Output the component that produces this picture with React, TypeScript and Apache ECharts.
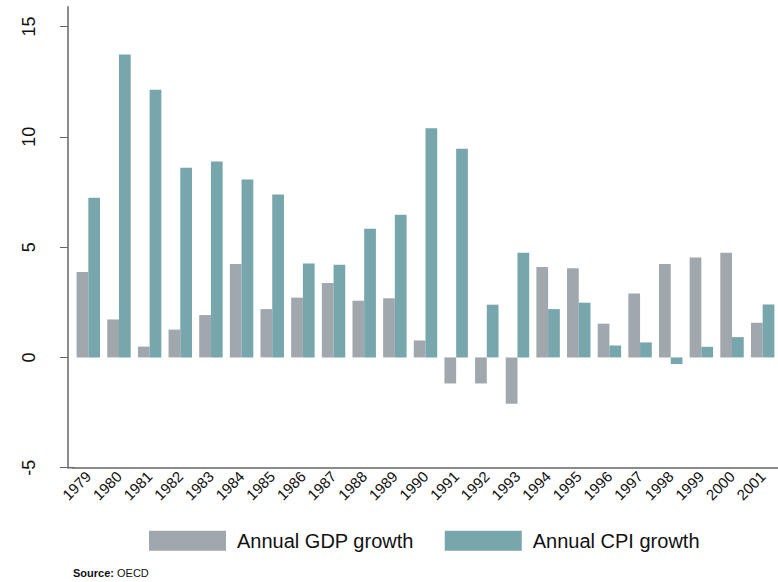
import React, { useEffect, useRef } from "react";
import * as echarts from "echarts";

const years = [
  "1979", "1980", "1981", "1982", "1983", "1984", "1985", "1986", "1987", "1988", "1989", "1990",
  "1991", "1992", "1993", "1994", "1995", "1996", "1997", "1998", "1999", "2000", "2001",
];
const gdpGrowth = [
  3.87, 1.72, 0.49, 1.26, 1.92, 4.24, 2.19, 2.71, 3.37, 2.57, 2.68, 0.77,
  -1.18, -1.18, -2.1, 4.1, 4.04, 1.53, 2.9, 4.23, 4.53, 4.74, 1.57,
];
const cpiGrowth = [
  7.24, 13.73, 12.13, 8.6, 8.88, 8.07, 7.39, 4.26, 4.2, 5.83, 6.47, 10.39,
  9.46, 2.39, 4.74, 2.19, 2.48, 0.54, 0.68, -0.3, 0.48, 0.92, 2.4,
];
const yTicks = [-5, 0, 5, 10, 15];
const seriesNames = ["Annual GDP growth", "Annual CPI growth"];

const FONT = "'Liberation Sans', Arial, sans-serif";
const GRAY = "#a0a7ad";
const TEAL = "#77a6ad";
const AXIS = "#666666";

export default function App() {
  const ref = useRef<HTMLDivElement>(null);
  useEffect(() => {
    if (!ref.current) return;
    const chart = echarts.init(ref.current, undefined, { renderer: "svg" });
    chart.setOption({
      animation: false,
      backgroundColor: "#ffffff",
      textStyle: { fontFamily: FONT },
      grid: { left: 73, right: -4, top: 6.7, bottom: 114.3, containLabel: false },
      legend: {
        left: 149,
        top: 530.7,
        padding: 0,
        itemWidth: 77,
        itemHeight: 20,
        itemGap: 31,
        icon: "rect",
        selectedMode: false,
        data: seriesNames,
        textStyle: { fontSize: 20, color: "#111", fontFamily: FONT, padding: [0, 0, 0, 6] },
      },
      xAxis: {
        type: "category",
        data: years,
        axisLine: { show: true, onZero: false, lineStyle: { color: AXIS, width: 1.5 } },
        axisTick: { show: false },
        axisLabel: {
          rotate: 45,
          interval: 0,
          margin: 6,
          fontSize: 15,
          color: "#111",
          fontFamily: FONT,
        },
      },
      yAxis: {
        type: "value",
        min: -5,
        max: 15.9,
        offset: 5,
        splitLine: { show: false },
        axisLine: { show: true, lineStyle: { color: AXIS, width: 1.5 } },
        axisTick: { show: true, length: 8, lineStyle: { color: AXIS, width: 1 }, customValues: yTicks },
        axisLabel: {
          rotate: 90,
          margin: 30,
          fontSize: 18,
          color: "#111",
          fontFamily: FONT,
          customValues: yTicks,
        },
      },
      series: [
        {
          name: seriesNames[0],
          type: "bar",
          data: gdpGrowth,
          barGap: "0%",
          barCategoryGap: "23.5%",
          itemStyle: { color: GRAY },
        },
        {
          name: seriesNames[1],
          type: "bar",
          data: cpiGrowth,
          barGap: "0%",
          barCategoryGap: "23.5%",
          itemStyle: { color: TEAL },
        },
      ],
      graphic: [
        {
          type: "line",
          shape: { x1: 67.5, y1: 467.7, x2: 74, y2: 467.7 },
          style: { stroke: AXIS, lineWidth: 1.5 },
        },
        {
          type: "text",
          x: 73,
          y: 573,
          style: {
            text: "{b|Source:} OECD",
            fontSize: 11,
            fontFamily: FONT,
            fill: "#111",
            verticalAlign: "middle",
            rich: {
              b: { fontWeight: "bold", fontSize: 11, fontFamily: FONT, fill: "#111" },
            },
          },
        },
      ],
    });
    return () => chart.dispose();
  }, []);
  return (
    <div
      ref={ref}
      style={{ position: "absolute", left: 0, top: 0, width: 778, height: 582 }}
    />
  );
}
